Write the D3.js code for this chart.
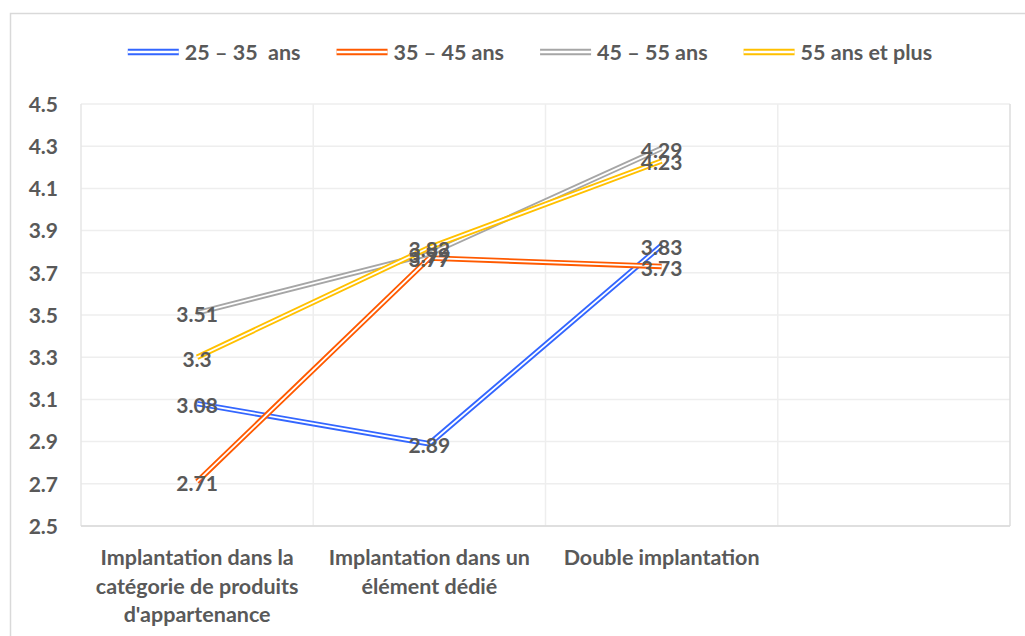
<!DOCTYPE html>
<html>
<head>
<meta charset="utf-8">
<script src="https://cdn.jsdelivr.net/npm/d3@7"></script>
<style>
  html, body { margin: 0; padding: 0; background: #fff; }
  svg { display: block; font-family: Lato, "Open Sans", sans-serif; font-weight: bold; }
  text { white-space: pre; }
</style>
</head>
<body>
<svg id="chart" width="1025" height="636"></svg>
<script>
const categories = [
  ["Implantation dans la", "catégorie de produits", "d'appartenance"],
  ["Implantation dans un", "élément dédié"],
  ["Double implantation"],
  [""]
];
const seriesNames = ["25 – 35  ans", "35 – 45 ans", "45 – 55 ans", "55 ans et plus"];
const seriesColors = ["#3366FF", "#FF5A00", "#A6A6A6", "#FFC000"];
const values25_35 = [3.08, 2.89, 3.83];
const values35_45 = [2.71, 3.77, 3.73];
const values45_55 = [3.51, 3.79, 4.29];
const values55plus = [3.30, 3.82, 4.23];
const yTicks = [2.5, 2.7, 2.9, 3.1, 3.3, 3.5, 3.7, 3.9, 4.1, 4.3, 4.5];

const seriesValues = [values25_35, values35_45, values45_55, values55plus];
const textColor = "#595959";

const svg = d3.select("#chart");
const plot = { left: 81, top: 104, right: 1010, bottom: 526 };

// outer chart border
svg.append("rect")
  .attr("x", 10.5).attr("y", 13.5)
  .attr("width", 1040).attr("height", 640)
  .attr("fill", "none").attr("stroke", "#d9d9d9").attr("stroke-width", 1.5);

const x = d3.scaleBand()
  .domain(d3.range(categories.length))
  .range([plot.left, plot.right])
  .paddingInner(0).paddingOuter(0);

const y = d3.scaleLinear().domain([2.5, 4.5]).range([plot.bottom, plot.top]);

// horizontal gridlines
svg.append("g").selectAll("line").data(yTicks).join("line")
  .attr("x1", plot.left).attr("x2", plot.right)
  .attr("y1", d => y(d)).attr("y2", d => y(d))
  .attr("stroke", "#eeeeee").attr("stroke-width", 1.5);

// vertical gridlines at category boundaries
svg.append("g").selectAll("line").data(d3.range(1, categories.length)).join("line")
  .attr("x1", d => x(d)).attr("x2", d => x(d))
  .attr("y1", plot.top).attr("y2", plot.bottom)
  .attr("stroke", "#eeeeee").attr("stroke-width", 1.5);

// plot border
svg.append("line").attr("x1", plot.left).attr("x2", plot.left)
  .attr("y1", plot.top).attr("y2", plot.bottom)
  .attr("stroke", "#e6e6e6").attr("stroke-width", 1.5);
svg.append("line").attr("x1", plot.right).attr("x2", plot.right)
  .attr("y1", plot.top).attr("y2", plot.bottom)
  .attr("stroke", "#dcdcdc").attr("stroke-width", 1.5);
svg.append("line").attr("x1", plot.left).attr("x2", plot.right)
  .attr("y1", plot.bottom).attr("y2", plot.bottom)
  .attr("stroke", "#d9d9d9").attr("stroke-width", 1.5);

// y axis labels
const yAxis = d3.axisLeft(y).tickValues(yTicks).tickSize(0).tickPadding(0)
  .tickFormat(d3.format(".1f"));
const yg = svg.append("g").attr("transform", `translate(58,0)`).call(yAxis);
yg.select(".domain").remove();
yg.selectAll("text")
  .attr("fill", textColor).attr("font-size", 21)
  .attr("font-family", "Lato, sans-serif").attr("font-weight", "bold")
  .attr("dy", "0.35em");

// x axis labels
const xg = svg.append("g");
categories.forEach((lines, i) => {
  const t = xg.append("text")
    .attr("x", x(i) + x.bandwidth() / 2)
    .attr("text-anchor", "middle")
    .attr("fill", textColor).attr("font-size", 21.5);
  lines.forEach((ln, j) => {
    t.append("tspan").attr("x", x(i) + x.bandwidth() / 2)
      .attr("y", 565 + j * 28.5).text(ln);
  });
});

// lines (compound double style)
const line = d3.line()
  .x((d, i) => x(i) + x.bandwidth() / 2)
  .y(d => y(d));

seriesValues.forEach((vals, s) => {
  const g = svg.append("g");
  g.append("path").attr("d", line(vals))
    .attr("fill", "none").attr("stroke", seriesColors[s])
    .attr("stroke-width", 5.5).attr("stroke-linejoin", "miter");
  g.append("path").attr("d", line(vals))
    .attr("fill", "none").attr("stroke", "#ffffff")
    .attr("stroke-width", 1.8).attr("stroke-linejoin", "miter");
});

// data labels
seriesValues.forEach((vals, s) => {
  svg.append("g").selectAll("text").data(vals).join("text")
    .attr("x", (d, i) => x(i) + x.bandwidth() / 2)
    .attr("y", d => y(d) + 2)
    .attr("dy", "0.35em")
    .attr("text-anchor", "middle")
    .attr("fill", textColor).attr("font-size", 21)
    .text(d => d3.format("")(+d.toFixed(2)));
});

// legend
const legend = svg.append("g");
let cursor = 0;
seriesNames.forEach((name, s) => {
  const g = legend.append("g");
  g.append("line").attr("x1", 0).attr("x2", 51).attr("y1", 0).attr("y2", 0)
    .attr("stroke", seriesColors[s]).attr("stroke-width", 6.5);
  g.append("line").attr("x1", 0).attr("x2", 51).attr("y1", 0).attr("y2", 0)
    .attr("stroke", "#fff").attr("stroke-width", 2.3);
  const t = g.append("text").attr("x", 57).attr("y", 0).attr("dy", "0.35em")
    .attr("fill", textColor).attr("font-size", 21.5).text(name);
  const w = 57 + t.node().getComputedTextLength();
  g.attr("transform", `translate(${cursor},52)`);
  cursor += w + 36;
});
const totalW = cursor - 36;
legend.attr("transform", `translate(${530 - totalW / 2},0)`);
</script>
</body>
</html>
